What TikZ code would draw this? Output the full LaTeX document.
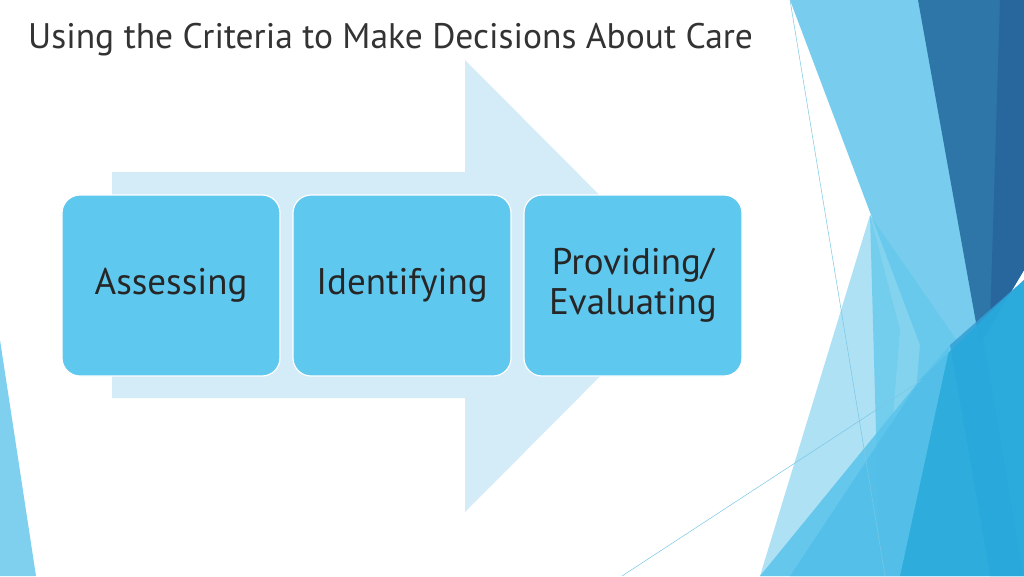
\documentclass[tikz,border=0pt]{standalone}
\usepackage{fontspec}
\setmainfont{PT Sans}
\begin{document}
\begin{tikzpicture}[x=1pt,y=-1pt,
  stepbox/.style={draw=white,line width=1.2pt,fill=boxblue,rounded corners=18pt,minimum width=218pt,minimum height=181pt,inner sep=0pt,align=center,font=\fontsize{37}{40}\selectfont,text=black!85},
  deco/.style={draw=none}]
\definecolor{boxblue}{HTML}{5FC8EE}
\definecolor{arrowbg}{HTML}{D3ECF7}
\useasboundingbox (0,0) rectangle (1024,576);
\fill[white] (0,0) rectangle (1024,576);
% decorations
\fill[deco,fill={rgb,255:red,175;green,225;blue,245}] (870,215) -- (900,330) -- (880,576) -- (760,576) -- cycle;
\fill[deco,fill={rgb,255:red,120;green,205;blue,238}] (790,0) -- (925,0) -- (1024,576) -- (900,576) -- (920,345) -- cycle;
\fill[deco,fill={rgb,255:red,46;green,117;blue,168}] (918,0) -- (1024,0) -- (1024,270) -- (980,345) -- cycle;
\fill[deco,fill={rgb,255:red,40;green,102;blue,158}] (1000,0) -- (1024,0) -- (1024,270) -- (990,325) -- cycle;
\fill[deco,fill={rgb,255:red,100;green,200;blue,236},opacity=0.8] (870,215) -- (960,345) -- (1024,576) -- (880,576) -- cycle;
\fill[deco,fill={rgb,255:red,50;green,160;blue,215},opacity=0.85] (950,345) -- (1024,280) -- (1024,576) -- (990,576) -- cycle;
\fill[deco,fill={rgb,255:red,40;green,170;blue,220},opacity=0.9] (790,576) -- (920,380) -- (1024,280) -- (1024,576) -- cycle;
\fill[deco,fill={rgb,255:red,90;green,195;blue,235},opacity=0.85] (760,576) -- (920,380) -- (950,345) -- (900,576) -- cycle;
\fill[deco,fill={rgb,255:red,127;green,208;blue,238}] (0,340) -- (36,576) -- (0,576) -- cycle;
\draw[deco,draw={rgb,255:red,120;green,200;blue,230},line width=0.5pt] (790,0) -- (885,576);
\draw[deco,draw={rgb,255:red,120;green,200;blue,230},line width=0.5pt] (622,576) -- (922,380);
% title
\node[anchor=west,font=\fontsize{35.5}{38}\selectfont,text=black!80,inner sep=0pt] (title) at (28,40) {Using the Criteria to Make Decisions About Care};
% background arrow
\fill[arrowbg] (112,172) -- (465,172) -- (465,60) -- (690,286) -- (465,512) -- (465,398) -- (112,398) -- cycle;
% boxes
\node[stepbox] (a) at (171,285.5) {Assessing};
\node[stepbox] (b) at (402,285.5) {Identifying};
\node[stepbox] (c) at (633,285.5) {Providing/\\Evaluating};
\end{tikzpicture}
\end{document}
